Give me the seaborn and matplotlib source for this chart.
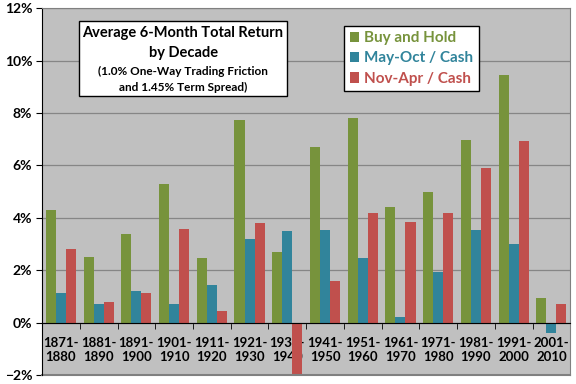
import numpy as np
import pandas as pd
import matplotlib
matplotlib.use("Agg")
import matplotlib.pyplot as plt
import seaborn as sns
from matplotlib.patches import Rectangle
from matplotlib.ticker import PercentFormatter, FixedLocator

decades = ["1871-\n1880", "1881-\n1890", "1891-\n1900", "1901-\n1910", "1911-\n1920",
           "1921-\n1930", "1931-\n1940", "1941-\n1950", "1951-\n1960", "1961-\n1970",
           "1971-\n1980", "1981-\n1990", "1991-\n2000", "2001-\n2010"]
buy_hold = [4.3, 2.5, 3.4, 5.3, 2.45, 7.75, 2.7, 6.7, 7.8, 4.4, 5.0, 6.95, 9.45, 0.95]
may_oct = [1.15, 0.7, 1.2, 0.72, 1.42, 3.2, 3.48, 3.55, 2.48, 0.23, 1.92, 3.55, 3.02, -0.38]
nov_apr = [2.8, 0.8, 1.15, 3.57, 0.46, 3.8, -2.4, 1.6, 4.17, 3.84, 4.2, 5.9, 6.93, 0.72]
series = ["Buy and Hold", "May-Oct / Cash", "Nov-Apr / Cash"]
colors = ["#77933C", "#31849B", "#C0504D"]

df = pd.DataFrame({
    "decade": decades * 3,
    "ret": buy_hold + may_oct + nov_apr,
    "series": [series[0]] * 14 + [series[1]] * 14 + [series[2]] * 14,
})

plt.rcParams['font.family'] = ['Lato', 'DejaVu Sans']
plt.rcParams['font.weight'] = 'bold'

fig = plt.figure(figsize=(5.76, 3.84), dpi=100)
ax = fig.add_axes([0.073, 0.023, 0.917, 0.956])
ax.set_facecolor("#C0C0C0")

sns.barplot(data=df, x="decade", y="ret", hue="series", palette=colors,
            saturation=1, width=0.8, ax=ax, legend=True)

ax.set_ylim(-2, 12)
ax.set_xlim(-0.5, 13.5)
ax.set_yticks(np.arange(-2, 13, 2))
ax.yaxis.set_major_formatter(PercentFormatter(decimals=0))
ax.grid(axis="y", color="#868686", linewidth=0.9)
ax.set_axisbelow(True)
ax.set_xlabel("")
ax.set_ylabel("")

for s in ["top", "right"]:
    ax.spines[s].set_color("#808080")
ax.spines["left"].set_color("black")
ax.spines["bottom"].set_position(("data", 0))
ax.spines["bottom"].set_color("black")

ax.tick_params(axis="y", labelsize=10, length=4, color="black", pad=3)
ax.tick_params(axis="x", which="major", length=0, labelsize=9.5, pad=10)
ax.xaxis.set_minor_locator(FixedLocator(np.arange(-0.5, 14, 1)))
ax.tick_params(axis="x", which="minor", length=4, direction="out", color="black")
for lbl in ax.get_xticklabels() + ax.get_yticklabels():
    lbl.set_fontweight("bold")

# gray frame line at bottom
ax.axhline(-2, color="#808080", linewidth=1.5, clip_on=False)

# title box
ax.add_patch(Rectangle((0.070, 0.760), 0.394, 0.205, transform=ax.transAxes,
                       facecolor="white", edgecolor="black", linewidth=1, zorder=5))
ax.text(0.267, 0.932, "Average 6-Month Total Return", transform=ax.transAxes,
        ha="center", va="center", fontsize=10.5, fontweight="bold", zorder=6)
ax.text(0.267, 0.877, "by Decade", transform=ax.transAxes,
        ha="center", va="center", fontsize=10.5, fontweight="bold", zorder=6)
ax.text(0.267, 0.826, "(1.0% One-Way Trading Friction", transform=ax.transAxes,
        ha="center", va="center", fontsize=8.5, fontweight="bold", zorder=6)
ax.text(0.267, 0.783, "and 1.45% Term Spread)", transform=ax.transAxes,
        ha="center", va="center", fontsize=8.5, fontweight="bold", zorder=6)

leg = ax.legend(loc="upper left", bbox_to_anchor=(0.572, 0.952), fancybox=False,
                edgecolor="black", framealpha=1, fontsize=11, handlelength=0.65,
                handleheight=0.65, handletextpad=0.3, borderpad=0.35, labelspacing=0.42,
                borderaxespad=0)
leg.get_frame().set_linewidth(1)
for t, c in zip(leg.get_texts(), colors):
    t.set_color(c)
    t.set_fontweight("bold")

fig.savefig("out.png", dpi=100)
